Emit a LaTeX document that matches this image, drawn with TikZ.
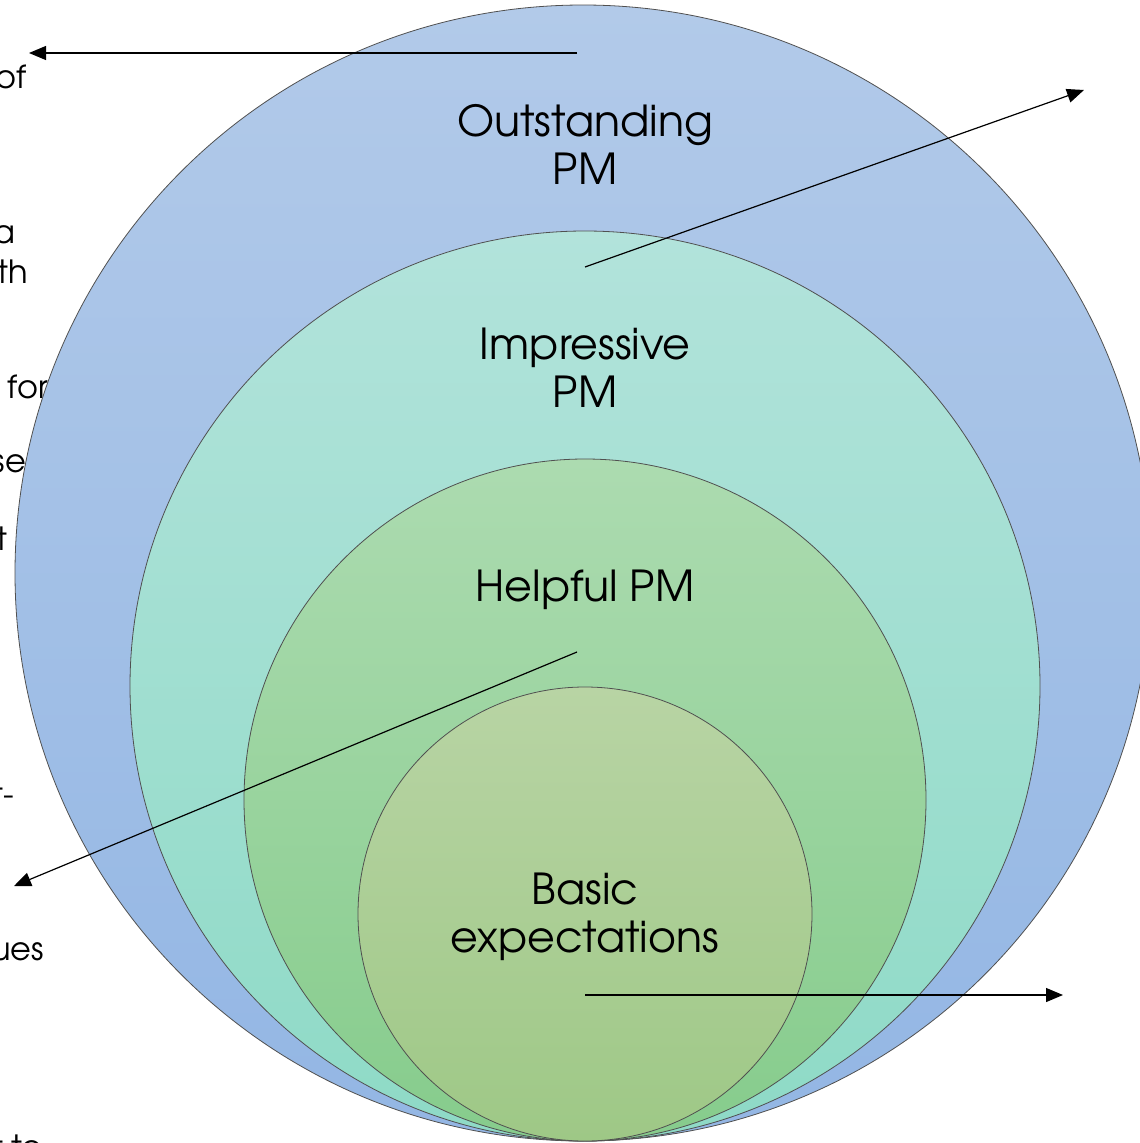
\documentclass[tikz,border=0pt]{standalone}
\usepackage{fontspec}
\setmainfont{TeX Gyre Adventor}
\usetikzlibrary{arrows.meta}
\definecolor{oTop}{RGB}{178,202,233}
\definecolor{oBot}{RGB}{147,182,228}
\definecolor{iTop}{RGB}{178,227,219}
\definecolor{iBot}{RGB}{142,218,198}
\definecolor{hTop}{RGB}{172,219,176}
\definecolor{hBot}{RGB}{134,204,140}
\definecolor{bTop}{RGB}{184,212,164}
\definecolor{bBot}{RGB}{158,200,134}
\definecolor{rim}{RGB}{80,80,80}
\tikzset{
  ring/.style={draw=rim, line width=0.8pt},
  lbl/.style={font=\fontsize{42.7}{48}\selectfont, align=center, inner sep=0pt},
  side/.style={font=\fontsize{32}{38}\selectfont, anchor=base east, inner sep=0pt},
  arr/.style={draw=black, line width=1.2pt, -{Triangle[length=17pt,width=14pt]}}
}
\begin{document}
\begin{tikzpicture}[x=1pt,y=-1pt]
\useasboundingbox (0,0) rectangle (1140,1143);
\clip (0,0) rectangle (1140,1143);
% partly hidden side texts
\node[side] (s1) at (27,88) {of};
\node[side] (s2) at (16,243) {a};
\node[side] (s3) at (28,283) {th};
\node[side] (s4) at (48,398) {for};
\node[side] (s5) at (26,472) {se};
\node[side] (s6) at (8,550) {t};
\node[side] (s7) at (14,805) {t-};
\node[side] (s8) at (44,960) {ues};
\node[side] (s9) at (43,1158) {t to};
% circles
\shade[ring, top color=oTop, bottom color=oBot] (583,573) circle[radius=568];
\shade[ring, top color=iTop, bottom color=iBot] (585,686) circle[radius=455];
\shade[ring, top color=hTop, bottom color=hBot] (585,800) circle[radius=341];
\shade[ring, top color=bTop, bottom color=bBot] (585,914) circle[radius=227];
% labels (base = baseline of last line)
\node[lbl, anchor=base] (out) at (585,184) {Outstanding\\PM};
\node[lbl, anchor=base] (imp) at (585,407) {Impressive\\PM};
\node[lbl, anchor=base] (hel) at (585,601) {Helpful PM};
\node[lbl, anchor=base] (bas) at (585,952) {Basic\\expectations};
% connector ends
\coordinate (a1s) at (577,53);
\coordinate (a1e) at (29,53);
\coordinate (a2s) at (585,267);
\coordinate (a2e) at (1084,90);
\coordinate (a3s) at (577,652);
\coordinate (a3e) at (14,886);
\coordinate (a4s) at (585,995);
\coordinate (a4e) at (1063,995);
\draw[arr] (a1s) -- (a1e);
\draw[arr] (a2s) -- (a2e);
\draw[arr] (a3s) -- (a3e);
\draw[arr] (a4s) -- (a4e);
\end{tikzpicture}
\end{document}
